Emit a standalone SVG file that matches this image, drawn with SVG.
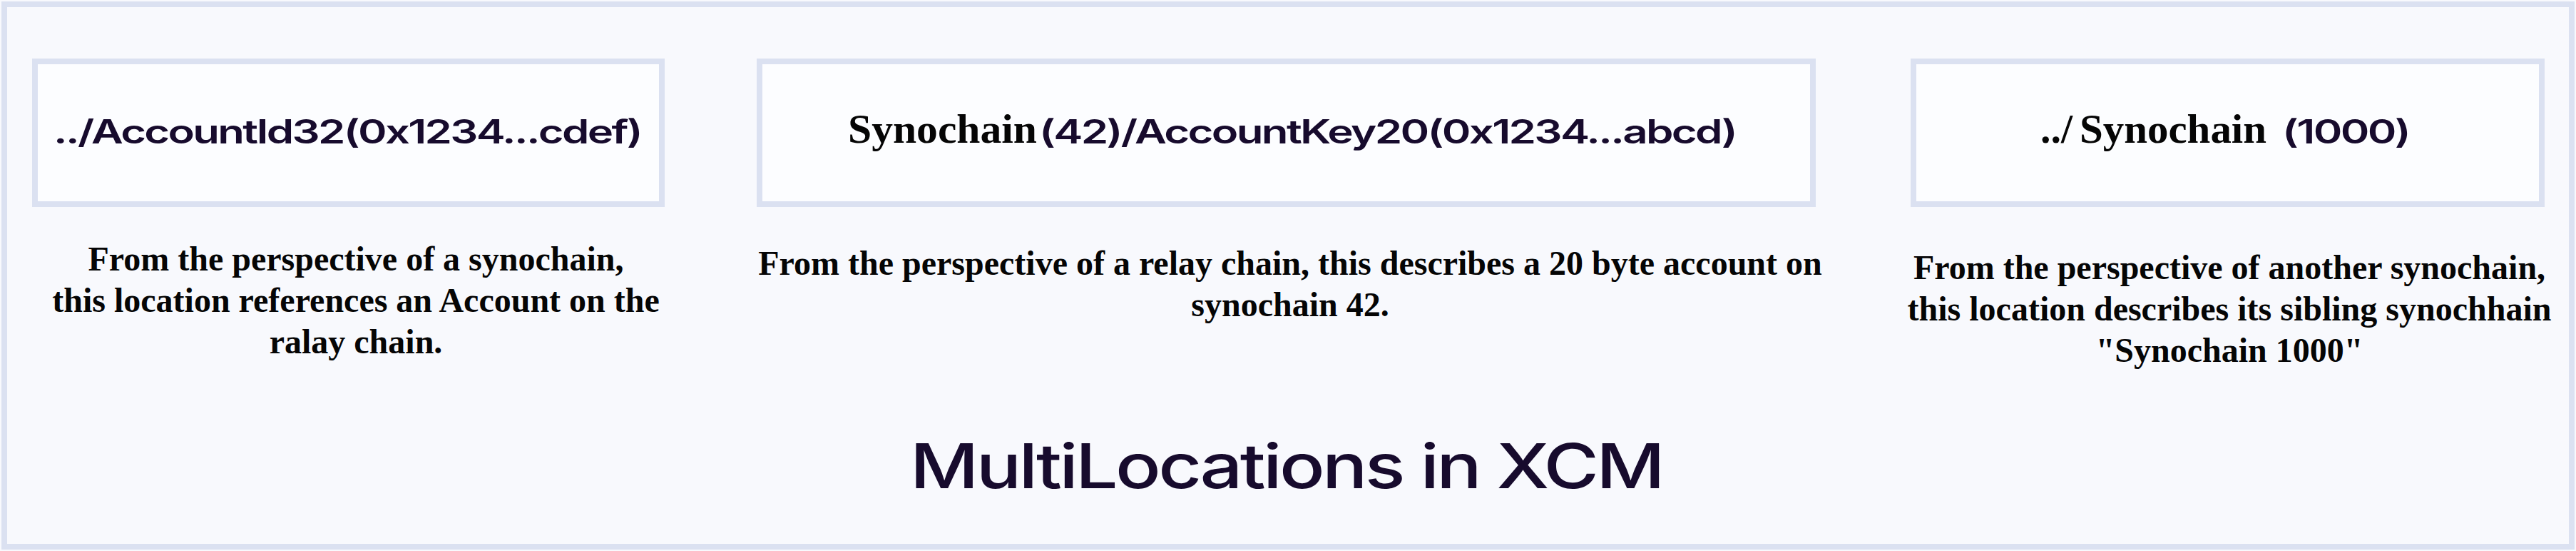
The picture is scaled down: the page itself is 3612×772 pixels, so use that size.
<svg xmlns="http://www.w3.org/2000/svg" width="3612" height="772" viewBox="0 0 3612 772">
  <style>
    .frame { fill: #f8f9fd; stroke: #dbe1f1; stroke-width: 8; }
    .box { fill: #fcfdff; stroke: #dbe1f1; stroke-width: 8; }
    .sans { font-family: Inter, "Liberation Sans", sans-serif; font-weight: 600; fill: #170b2d; letter-spacing: -2px; }
    .serif { font-family: "Liberation Serif", "Times New Roman", serif; font-weight: bold; fill: #050505; }
    .lbl { font-size: 46px; }
    .lblserif { font-size: 58px; }
    .desc { font-family: "Liberation Serif", "Times New Roman", serif; font-weight: bold; font-size: 48px; fill: #050505; text-anchor: middle; }
    .title { font-size: 86px; font-weight: 500; letter-spacing: -3px; }
  </style>
  <rect x="0" y="0" width="3612" height="772" fill="#f8f9fd"/>
  <rect class="frame" x="6" y="6" width="3600" height="760"/>

  <g id="connectors"></g>

  <g id="node-accountid32">
    <rect class="box" x="49" y="86" width="879" height="200"/>
    <text class="sans lbl" x="75" y="201" textLength="824" lengthAdjust="spacingAndGlyphs">../AccountId32(0x1234...cdef)</text>
  </g>

  <g id="node-accountkey20">
    <rect class="box" x="1065" y="86" width="1477" height="200"/>
    <text class="serif lblserif" x="1189" y="200" textLength="265" lengthAdjust="spacingAndGlyphs">Synochain</text>
    <text class="sans lbl" x="1457" y="201" textLength="977" lengthAdjust="spacingAndGlyphs">(42)/AccountKey20(0x1234...abcd)</text>
  </g>

  <g id="node-sibling">
    <rect class="box" x="2683" y="86" width="881" height="200"/>
    <text class="serif lblserif" x="2861" y="200">../</text>
    <text class="serif lblserif" x="2916" y="200" textLength="262" lengthAdjust="spacingAndGlyphs">Synochain</text>
    <text class="sans lbl" x="3200" y="201" textLength="178" lengthAdjust="spacingAndGlyphs">(1000)</text>
  </g>

  <g id="desc-accountid32">
    <text class="desc" x="499" y="379">From the perspective of a synochain,</text>
    <text class="desc" x="499" y="437">this location references an Account on the</text>
    <text class="desc" x="499" y="495">ralay chain.</text>
  </g>

  <g id="desc-accountkey20">
    <text class="desc" x="1809" y="385">From the perspective of a relay chain, this describes a 20 byte account on</text>
    <text class="desc" x="1809" y="443">synochain 42.</text>
  </g>

  <g id="desc-sibling">
    <text class="desc" x="3126" y="391">From the perspective of another synochain,</text>
    <text class="desc" x="3126" y="449">this location describes its sibling synochhain</text>
    <text class="desc" x="3126" y="507">"Synochain 1000"</text>
  </g>

  <g id="title">
    <text class="sans title" x="1276" y="684" textLength="1055" lengthAdjust="spacingAndGlyphs">MultiLocations in XCM</text>
  </g>
</svg>
